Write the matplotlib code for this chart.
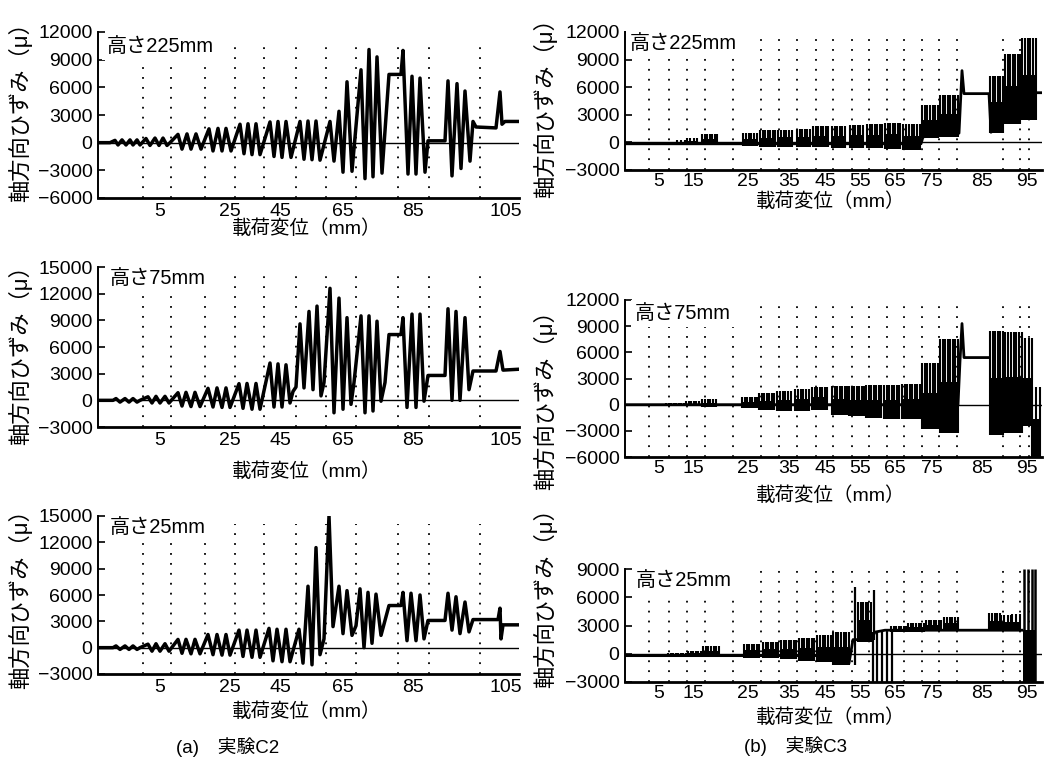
import matplotlib
matplotlib.use('Agg')
import matplotlib.pyplot as plt
import numpy as np

plt.rcParams['font.family'] = ['Liberation Sans', 'Noto Sans CJK JP']

# ---------------- text ----------------
ylabel_text = '軸方向ひずみ（μ）'
xlabel_text = '載荷変位（mm）'
caption_a = '(a)　実験C2'
caption_b = '(b)　実験C3'
height_labels = ['高さ225mm', '高さ75mm', '高さ25mm']

# ---------------- x axis (loading step) ----------------
a_stage_marks = [45, 73, 107, 137, 166, 198, 228, 258, 300, 331, 382]
a_tick_pos = [62, 132, 182, 245, 315, 408]
a_tick_lab = ['5', '25', '45', '65', '85', '105']

b_stage_marks = [24, 44, 62, 80, 108, 136, 154, 172, 191, 208, 227, 244, 262,
                 279, 297, 314, 332, 378, 395, 404]
b_tick_pos = [34, 68, 123, 164, 200, 235, 270, 307, 357, 402]
b_tick_lab = ['5', '15', '25', '35', '45', '55', '65', '75', '85', '95']

# ---------------- C2 (peak / trough sequences) ----------------
a1_x = [0, 12, 17, 20, 24, 28, 32, 35, 39, 42,
        48, 52, 57, 61, 65, 69, 72,
        80, 84, 89, 93, 98, 103,
        111, 115, 120, 124, 128, 133,
        142, 146, 150, 154, 158, 162,
        172, 176, 180, 184, 188, 193,
        202, 206, 210, 214, 218, 222,
        232, 236, 241, 245, 249, 254,
        263, 267, 271, 275, 279, 284,
        291, 303, 305, 310, 314, 318, 322, 327, 330, 347,
        350, 354, 359, 363, 367, 372, 375, 378, 398, 402, 404, 407, 421]
a1_y = [0, 0, 250, -250, 300, -250, 300, -250, 300, -250,
        450, -300, 500, -300, 500, -300, 0,
        900, -700, 950, -700, 950, -700,
        1500, -900, 1550, -900, 1550, -900,
        2000, -1200, 2050, -1300, 2050, -1300,
        2250, -1500, 2300, -1600, 2300, -1600,
        2300, -1800, 2350, -1850, 2350, -1900,
        2300, -2000, 3400, -3200, 6600, -3100,
        7900, -3900, 10100, -3700, 9300, -3300,
        7400, 7400, 10000, -3400, 7200, -3400, 7000, -3200, 200, 200,
        6700, -3600, 6400, -2800, 5600, -2000, 2300, 1700, 1600, 5500, 2000, 2300, 2300]

a2_x = [0, 15, 18, 22, 27, 31, 35, 39, 42,
        50, 54, 58, 62, 67, 71,
        80, 84, 88, 93, 97, 102,
        110, 115, 119, 124, 128, 132,
        141, 145, 149, 154, 158, 162,
        172, 176, 180, 184, 188, 192, 195,
        198, 202, 206, 211, 215, 219, 223, 226,
        232, 236, 241, 245, 249, 253, 256,
        263, 267, 271, 275, 279, 283, 287, 291, 303, 305, 309, 314, 318, 322, 326, 330, 347,
        350, 354, 358, 362, 367, 371, 375, 398, 402, 405, 421]
a2_y = [0, 0, 200, -200, 200, -200, 200, -200, 0,
        400, -300, 450, -300, 450, -300,
        860, -640, 900, -700, 900, -700,
        1350, -750, 1400, -800, 1400, -800,
        1875, -900, 1900, -1000, 1900, -1000,
        4200, -750, 4100, -750, 4000, -300, 1000,
        1500, 8600, 1400, 10000, 1200, 10600, 500, 2000,
        12600, -1400, 11500, -1000, 9300, -450, 2000,
        9500, -1400, 9500, -1200, 8900, -100, 2000, 7400, 7400, 9300, -800, 9700, -800, 9700, -100, 2800, 2800,
        10300, 0, 10000, 0, 9300, 1200, 3300, 3300, 5500, 3400, 3500]

a3_x = [0, 15, 18, 22, 27, 31, 35, 39, 42,
        50, 54, 58, 62, 67, 71,
        80, 84, 88, 93, 97, 102,
        110, 115, 119, 124, 128, 132,
        141, 145, 149, 154, 158, 162,
        171, 175, 179, 184, 188, 192,
        201, 205, 210, 214, 218, 222, 226, 231, 235, 241, 245, 249, 254, 258,
        262, 266, 270, 274, 278, 283, 287, 291, 303, 305, 309, 313, 318, 322, 326, 330, 347,
        350, 354, 358, 362, 367, 371, 375, 400, 402, 403, 405, 421]
a3_y = [0, 0, 200, -200, 200, -200, 200, -200, 0,
        400, -400, 450, -400, 450, -400,
        940, -640, 950, -700, 950, -700,
        1500, -800, 1500, -850, 1500, -850,
        2000, -1000, 2000, -1100, 2000, -1100,
        2200, -1500, 2100, -1600, 2100, -1600,
        2100, -1760, 7000, -1950, 11400, -800, 1000, 15000, 2400, 7000, 1600, 6500, 1400, 2500,
        6700, 0, 6300, 500, 6100, 1400, 3100, 4800, 4800, 6300, 800, 6200, 800, 6000, 1000, 3100, 3100,
        6200, 2000, 5800, 1600, 5200, 1800, 3200, 3200, 4500, 1000, 2600, 2600]

# ---------------- C3 (burst envelopes) ----------------
b1_start = [52, 62, 77, 118, 135, 153, 172, 188, 207, 225, 242, 260, 278, 297, 315, 365, 380, 397]
b1_end = [60, 72, 92, 132, 150, 167, 185, 203, 220, 238, 257, 275, 295, 313, 333, 378, 395, 411]
b1_hi = [250, 450, 900, 1000, 1300, 1350, 1500, 1750, 1800, 1900, 2000, 2150, 2000, 4100, 5100, 7200, 9600, 11300]
b1_lo = [-150, -150, -200, -400, -450, -450, -500, -500, -600, -650, -650, -700, -800, 500, 600, 1000, 2000, 2400]
b1_base_x = [0, 296, 298, 334, 337, 339, 364, 366, 411, 417]
b1_base_y = [-150, -150, 600, 1000, 7800, 5300, 5300, 1100, 5400, 5400]

b2_start = [41, 61, 77, 117, 134, 152, 170, 187, 207, 224, 241, 259, 277, 297, 315, 365, 380, 397, 407]
b2_end = [61, 74, 91, 132, 149, 166, 184, 202, 222, 239, 256, 274, 295, 313, 333, 378, 397, 407, 415]
b2_hi = [200, 400, 600, 900, 1300, 1600, 1750, 2000, 2100, 2100, 2200, 2300, 2400, 4800, 7500, 8500, 8300, 7700, 2000]
b2_lo = [-100, -200, -300, -400, -600, -700, -700, -600, -1200, -1300, -1500, -1600, -1600, -2800, -3300, -3500, -3200, -2500, -6000]
b2_base_x = [0, 333, 335, 337, 339, 364]
b2_base_y = [0, 0, 5000, 9300, 5400, 5400]

b3_start = [43, 63, 78, 119, 138, 156, 174, 192, 208, 233, 266, 283, 301, 319, 364, 376, 387]
b3_end = [63, 78, 94, 134, 153, 171, 189, 206, 224, 246, 281, 299, 316, 333, 375, 386, 395]
b3_hi = [100, 300, 800, 1000, 1300, 1500, 1700, 2000, 2300, 5500, 2900, 3300, 3600, 3900, 4300, 4100, 4200]
b3_lo = [-300, -300, -300, -400, -500, -600, -800, -900, -1200, 1200, 2300, 2300, 2400, 2400, 2400, 2400, 2400]
b3_base_x = [0, 207, 224, 228, 246, 250, 260, 397]
b3_base_y = [-200, -200, -1000, 1500, 1500, 2300, 2500, 2500]
b3_spike_x = [230, 249, 248, 252, 257, 262, 267]
b3_spike_lo = [-1200, 1500, -3000, -3000, -3000, -3000, -3000]
b3_spike_hi = [7100, 6800, 2300, 2300, 2300, 2300, 2300]
b3_end_block = [398, 411]
b3_end_block_lo = -3000
b3_end_block_mid = 2500
b3_end_block_top = 9000
b3_end_spikes = [399, 403, 407, 410]

# ---------------- figure ----------------
W, H = 1046, 758
fig = plt.figure(figsize=(W / 100, H / 100), dpi=100)


def px_axes(x0, y0, x1, y1):
    return fig.add_axes([x0 / W, 1 - y1 / H, (x1 - x0) / W, (y1 - y0) / H])


def setup(ax, xmax, ylim, yticks, marks, tpos, tlab, mark_top, label, lab_xy, xpad):
    ax.set_xlim(0, xmax)
    ax.set_ylim(*ylim)
    for s in ['top', 'right']:
        ax.spines[s].set_visible(False)
    ax.spines['left'].set_linewidth(1.4)
    ax.spines['bottom'].set_linewidth(2.0)
    ax.set_yticks(yticks)
    ax.set_yticklabels([str(v) if v >= 0 else '\u2212' + str(-v) for v in yticks])
    ax.tick_params(axis='y', direction='in', length=5, width=1.2, labelsize=14, pad=4)
    ax.set_xticks(tpos)
    ax.set_xticklabels(tlab)
    ax.tick_params(axis='x', length=0, labelsize=14, pad=xpad)
    ax.axhline(0, color='k', lw=1.0, zorder=1)
    for m in marks:
        ax.axvline(m, ymin=0, ymax=mark_top, color='k', lw=1.3,
                   ls=(0, (1, 4.5)), zorder=0)
    ax.text(lab_xy[0], lab_xy[1], label, transform=ax.transAxes, fontsize=14.5,
            ha='left', va='center', zorder=10,
            bbox=dict(boxstyle='square,pad=0.2', fc='white', ec='none'))


def draw_bursts(ax, starts, ends, his, los):
    for s, e, h, l in zip(starts, ends, his, los):
        mid = l + 0.55 * (h - l)
        ax.fill_between([s, e], [l, l], [mid, mid], color='k', lw=0, zorder=3)
        n = max(2, int(round((e - s) / 2.3)))
        ax.vlines(np.linspace(s, e, n), l, h, color='k', lw=1.5, zorder=3)


# --- left column (C2) ---
A_X0, A_X1 = 98, 519
a_axes = [px_axes(A_X0, 32, A_X1, 198), px_axes(A_X0, 267, A_X1, 427),
          px_axes(A_X0, 516, A_X1, 674)]
a_ylims = [(-6000, 12000), (-3000, 15000), (-3000, 15000)]
a_yticks = [list(range(-6000, 12001, 3000)), list(range(-3000, 15001, 3000)),
            list(range(-3000, 15001, 3000))]
a_lab_xy = [(0.02, 0.91), (0.028, 0.925), (0.028, 0.93)]
a_data = [(a1_x, a1_y), (a2_x, a2_y), (a3_x, a3_y)]
for ax, yl, yt, lab, lxy, (xs, ys) in zip(a_axes, a_ylims, a_yticks, height_labels,
                                           a_lab_xy, a_data):
    setup(ax, 421, yl, yt, a_stage_marks, a_tick_pos, a_tick_lab, 0.95, lab, lxy, 3.5)
    ax.plot(xs, ys, color='k', lw=2.5, solid_joinstyle='round', zorder=3)

# --- right column (C3) ---
B_X0, B_X1 = 625, 1042
b_axes = [px_axes(B_X0, 32, B_X1, 170), px_axes(B_X0, 300, B_X1, 457),
          px_axes(B_X0, 569, B_X1, 682)]
b_ylims = [(-3000, 12000), (-6000, 12000), (-3000, 9000)]
b_yticks = [list(range(-3000, 12001, 3000)), list(range(-6000, 12001, 3000)),
            list(range(-3000, 9001, 3000))]
b_lab_xy = [(0.012, 0.92), (0.024, 0.917), (0.026, 0.894)]
for ax, yl, yt, lab, lxy in zip(b_axes, b_ylims, b_yticks, height_labels, b_lab_xy):
    setup(ax, 417, yl, yt, b_stage_marks, b_tick_pos, b_tick_lab, 1.0, lab, lxy, 2.5)

b1, b2, b3 = b_axes
b1.plot(b1_base_x, b1_base_y, color='k', lw=2.0, zorder=3)
draw_bursts(b1, b1_start, b1_end, b1_hi, b1_lo)
b2.plot(b2_base_x, b2_base_y, color='k', lw=2.0, zorder=3)
draw_bursts(b2, b2_start, b2_end, b2_hi, b2_lo)
b3.plot(b3_base_x, b3_base_y, color='k', lw=2.0, zorder=3)
draw_bursts(b3, b3_start, b3_end, b3_hi, b3_lo)
b3.vlines(b3_spike_x, b3_spike_lo, b3_spike_hi, color='k', lw=1.6, zorder=3)
b3.fill_between(b3_end_block, [b3_end_block_lo] * 2, [b3_end_block_mid] * 2,
                color='k', lw=0, zorder=3)
b3.vlines(b3_end_spikes, b3_end_block_lo, b3_end_block_top, color='k', lw=1.8, zorder=3)

# --- axis titles ---
for yc in [107, 350, 594]:
    fig.text(20 / W, 1 - yc / H, ylabel_text, rotation=90, ha='center', va='center', fontsize=16)
for yc in [103, 395, 593]:
    fig.text(545 / W, 1 - yc / H, ylabel_text, rotation=90, ha='center', va='center', fontsize=16)
for yc in [229, 472, 712]:
    fig.text(307 / W, 1 - yc / H, xlabel_text, ha='center', va='center', fontsize=14)
for yc in [202, 496, 718]:
    fig.text(831 / W, 1 - yc / H, xlabel_text, ha='center', va='center', fontsize=14)
fig.text(228 / W, 1 - 747 / H, caption_a, ha='center', va='center', fontsize=13.5)
fig.text(795 / W, 1 - 746 / H, caption_b, ha='center', va='center', fontsize=13.5)

fig.savefig('out.png', dpi=100)
